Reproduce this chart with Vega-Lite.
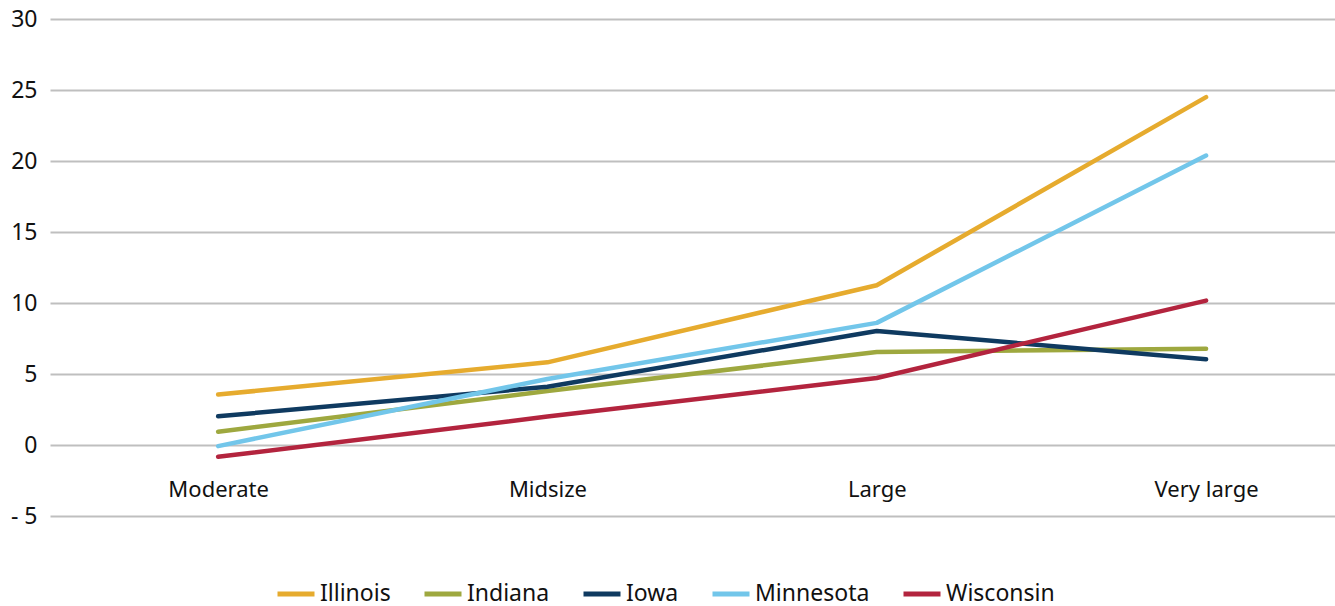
{
  "$schema": "https://vega.github.io/schema/vega-lite/v6.json",
  "width": 1285,
  "height": 497,
  "autosize": {"type": "none"},
  "padding": {"left": 50, "top": 19, "right": 0, "bottom": 90},
  "background": "white",
  "config": {
    "view": {"stroke": null},
    "font": "Noto Sans",
    "axis": {"labelFont": "Noto Sans", "labelColor": "#111111"},
    "legend": {"labelFont": "Noto Sans", "labelColor": "#111111"}
  },
  "data": {
    "values": [
      {"size": "Moderate", "state": "Illinois", "value": 3.55},
      {"size": "Midsize", "state": "Illinois", "value": 5.82},
      {"size": "Large", "state": "Illinois", "value": 11.25},
      {"size": "Very large", "state": "Illinois", "value": 24.5},
      {"size": "Moderate", "state": "Indiana", "value": 0.93},
      {"size": "Midsize", "state": "Indiana", "value": 3.8},
      {"size": "Large", "state": "Indiana", "value": 6.55},
      {"size": "Very large", "state": "Indiana", "value": 6.78},
      {"size": "Moderate", "state": "Iowa", "value": 2.02},
      {"size": "Midsize", "state": "Iowa", "value": 4.1},
      {"size": "Large", "state": "Iowa", "value": 8.03},
      {"size": "Very large", "state": "Iowa", "value": 6.04},
      {"size": "Moderate", "state": "Minnesota", "value": -0.08},
      {"size": "Midsize", "state": "Minnesota", "value": 4.65},
      {"size": "Large", "state": "Minnesota", "value": 8.6},
      {"size": "Very large", "state": "Minnesota", "value": 20.38},
      {"size": "Moderate", "state": "Wisconsin", "value": -0.83},
      {"size": "Midsize", "state": "Wisconsin", "value": 2.0},
      {"size": "Large", "state": "Wisconsin", "value": 4.72},
      {"size": "Very large", "state": "Wisconsin", "value": 10.17}
    ]
  },
  "mark": {"type": "line", "strokeWidth": 4.5, "strokeCap": "round", "strokeJoin": "round"},
  "encoding": {
    "x": {
      "field": "size",
      "type": "ordinal",
      "sort": ["Moderate", "Midsize", "Large", "Very large"],
      "scale": {"type": "point", "padding": 0.451, "align": 0.566},
      "axis": {
        "title": null,
        "orient": "bottom",
        "offset": -71,
        "domain": false,
        "ticks": false,
        "grid": false,
        "labelAngle": 0,
        "labelFontSize": 22,
        "labelPadding": 34
      }
    },
    "y": {
      "field": "value",
      "type": "quantitative",
      "scale": {"domain": [-5, 30], "nice": false, "zero": false},
      "axis": {
        "title": null,
        "values": [-5, 0, 5, 10, 15, 20, 25, 30],
        "domain": false,
        "ticks": false,
        "grid": true,
        "gridColor": "#bfbfbf",
        "gridWidth": 2,
        "labelFontSize": 23,
        "labelPadding": 13,
        "labelExpr": "datum.value < 0 ? '- ' + abs(datum.value) : datum.label"
      }
    },
    "color": {
      "field": "state",
      "type": "nominal",
      "sort": ["Illinois", "Indiana", "Iowa", "Minnesota", "Wisconsin"],
      "scale": {
        "domain": ["Illinois", "Indiana", "Iowa", "Minnesota", "Wisconsin"],
        "range": ["#e6ab2e", "#9ea83f", "#0f3a60", "#72c6ea", "#b3243e"]
      },
      "legend": {
        "title": null,
        "orient": "none",
        "legendX": 225,
        "legendY": 554,
        "direction": "horizontal",
        "symbolType": "stroke",
        "symbolSize": 1369,
        "symbolStrokeWidth": 5,
        "labelFontSize": 23,
        "labelOffset": 3,
        "columnPadding": 23
      }
    }
  }
}
